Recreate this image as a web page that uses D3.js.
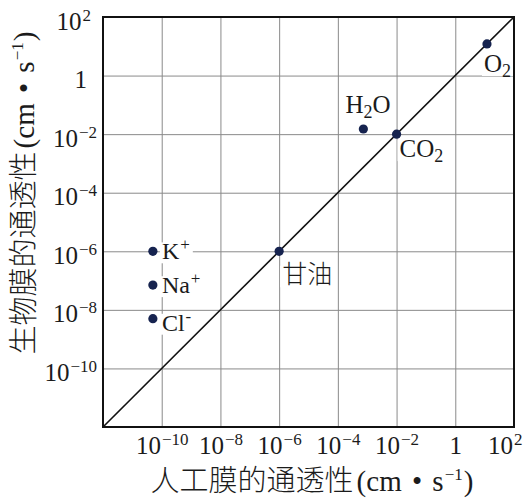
<!DOCTYPE html>
<html>
<head>
<meta charset="utf-8">
<script src="https://cdn.jsdelivr.net/npm/d3@7"></script>
<style>
  html, body { margin: 0; padding: 0; background: #fff; }
  svg { display: block; }
</style>
</head>
<body>
<svg id="chart" width="525" height="498"></svg>
<script>
// Permeability of substances: artificial (lipid bilayer) vs. biological membrane, cm·s⁻¹
const substances = ["K+", "Na+", "Cl-", "甘油", "H2O", "CO2", "O2"];
const artificialPermeability = [5e-11, 5e-11, 5e-11, 1e-6, 7.4e-4, 1e-2, 12];
const biologicalPermeability = [1e-6, 7e-8, 5e-9, 1e-6, 1.5e-2, 1e-2, 12];

// Tick exponents of the log axes
const xTickExponents = [-10, -8, -6, -4, -2, 0, 2];
const yTickExponents = [2, 0, -2, -4, -6, -8, -10];
const axisDomain = [1e-12, 1e2];

const xTitle = ["人工膜的通透性", "(cm • s", "−1", ")"];
const yTitle = ["生物膜的通透性", "(cm • s", "−1", ")"];

const svg = d3.select("#chart");
const W = 525, H = 498;
const margin = { left: 103, top: 17, right: 11, bottom: 71 };
const pw = W - margin.left - margin.right;
const ph = H - margin.top - margin.bottom;

const serif = "'Liberation Serif', 'Times New Roman', serif";
const cjkFont = "'Noto Sans CJK SC', sans-serif";
const ink = "#1b1b1b";

const x = d3.scaleLog().domain(axisDomain).range([0, pw]);
const y = d3.scaleLog().domain(axisDomain).range([ph, 0]);

const g = svg.append("g").attr("transform", `translate(${margin.left},${margin.top})`);

// exponent -> "10" with superscript (or "1")
function powerLabel(sel, exp, supSize) {
  sel.text(null);
  if (exp === 0) { sel.append("tspan").text("1"); return; }
  sel.append("tspan").text("10");
  sel.append("tspan")
    .attr("font-size", supSize)
    .attr("dx", 1)
    .attr("dy", -9)
    .text(exp < 0 ? "−" + Math.abs(exp) : String(exp));
}

// X axis: gridlines + labels
const xAxis = d3.axisBottom(x)
  .tickValues(xTickExponents.map(e => Math.pow(10, e)))
  .tickSize(-ph)
  .tickPadding(0);
const gx = g.append("g").attr("transform", `translate(0,${ph})`).call(xAxis);
gx.select(".domain").remove();
gx.selectAll(".tick line").attr("stroke", "#8a8a8a").attr("stroke-width", 1);
gx.selectAll(".tick text")
  .attr("fill", ink)
  .attr("font-family", serif)
  .attr("font-size", 25)
  .attr("y", 27)
  .attr("dy", 0)
  .each(function (d) {
    powerLabel(d3.select(this), Math.round(Math.log10(d)), 17);
  });
// keep the last label inside the page
gx.selectAll(".tick").each(function (d) {
  const t = d3.select(this).select("text");
  const bb = t.node().getBBox();
  const absRight = margin.left + x(d) + bb.x + bb.width;
  if (absRight > W - 3) t.attr("x", -(absRight - (W - 3)));
});

// Y axis: gridlines + labels
const yAxis = d3.axisLeft(y)
  .tickValues(yTickExponents.map(e => Math.pow(10, e)))
  .tickSize(-pw)
  .tickPadding(6);
const gy = g.append("g").call(yAxis);
gy.select(".domain").remove();
gy.selectAll(".tick line").attr("stroke", "#8a8a8a").attr("stroke-width", 1);
gy.selectAll(".tick text")
  .attr("fill", ink)
  .attr("font-family", serif)
  .attr("font-size", 25)
  .attr("dy", 12)
  .each(function (d) {
    const e = Math.round(Math.log10(d));
    powerLabel(d3.select(this), e, 17);
    if (e === 0) d3.select(this).attr("x", -16);
    if (e > 0) d3.select(this).attr("x", -12);
  });

// Layers: label backgrounds sit over the grid but under the diagonal
const bgLayer = g.append("g");
const lineLayer = g.append("g");
const markLayer = g.append("g");
const textLayer = g.append("g");

// Diagonal: equal permeability
lineLayer.append("line")
  .attr("x1", x(axisDomain[0])).attr("y1", y(axisDomain[0]))
  .attr("x2", x(axisDomain[1])).attr("y2", y(axisDomain[1]))
  .attr("stroke", "#111").attr("stroke-width", 1.6);

// Plot frame
lineLayer.append("rect")
  .attr("width", pw).attr("height", ph)
  .attr("fill", "none").attr("stroke", "#111").attr("stroke-width", 2);

// Points
const points = substances.map((name, i) => ({
  name, ax: artificialPermeability[i], bx: biologicalPermeability[i]
}));

markLayer.selectAll("circle.pt")
  .data(points)
  .join("circle")
  .attr("class", "pt")
  .attr("cx", d => x(d.ax))
  .attr("cy", d => y(d.bx))
  .attr("r", 4.6)
  .attr("fill", "#16234f");

// Label placement relative to each point
const placement = {
  "K+":  { dx: 9,   dy: 8,  size: 24 },
  "Na+": { dx: 9,   dy: 8,  size: 24 },
  "Cl-": { dx: 9,   dy: 12, size: 24 },
  "甘油": { dx: 3,  dy: 32, size: 25 },
  "H2O": { dx: -18, dy: -16, size: 25 },
  "CO2": { dx: 3,   dy: 23, size: 25 },
  "O2":  { dx: -3,  dy: 28, size: 25 }
};

const isCJK = s => /[\u4e00-\u9fff]/.test(s);

// chemical formula -> text with sub/superscripts
function formula(sel, name, size) {
  const small = Math.round(size * 0.7);
  const parts = name.match(/[A-Za-z]+|[\u4e00-\u9fff]+|\d+|[+-]/g);
  let shift = 0;
  parts.forEach(p => {
    const t = sel.append("tspan");
    if (/^\d+$/.test(p)) {
      t.attr("font-size", small).attr("dy", 5 - shift).text(p); shift = 5;
    } else if (p === "+" || p === "-") {
      t.attr("font-size", small).attr("dx", 1).attr("dy", -9 - shift).text(p); shift = -9;
    } else {
      t.attr("dy", -shift).text(p); shift = 0;
      if (isCJK(p)) t.attr("font-family", cjkFont).attr("font-weight", 300);
    }
  });
}

const pos = d => {
  const p = placement[d.name];
  return [x(d.ax) + p.dx, y(d.bx) + p.dy];
};

textLayer.selectAll("text.lbl")
  .data(points)
  .join("text")
  .attr("class", "lbl")
  .attr("transform", d => `translate(${pos(d)})`)
  .attr("font-family", serif)
  .attr("font-size", d => placement[d.name].size)
  .attr("fill", ink)
  .each(function (d) {
    formula(d3.select(this), d.name, placement[d.name].size);
    // tight white box behind the label (hides gridlines only)
    const bb = this.getBBox();
    const cap = placement[d.name].size * 0.62;
    const [tx, ty] = pos(d);
    bgLayer.append("rect")
      .attr("fill", "#fff")
      .attr("x", tx + bb.x - 2).attr("y", ty - cap - 2)
      .attr("width", bb.width + 5).attr("height", cap + 6);
  });

// Axis titles
function title(sel, parts, size) {
  sel.append("tspan").attr("font-family", cjkFont).attr("font-weight", 300).text(parts[0]);
  sel.append("tspan").attr("dx", 3).text(parts[1]);
  sel.append("tspan").attr("font-size", Math.round(size * 0.6)).attr("dx", 1).attr("dy", -11).text(parts[2]);
  sel.append("tspan").attr("dx", 1).attr("dy", 11).text(parts[3]);
}

const xt = svg.append("text")
  .attr("x", 312).attr("y", 491)
  .attr("text-anchor", "middle")
  .attr("font-family", serif)
  .attr("font-size", 29)
  .attr("fill", ink)
  .attr("word-spacing", 3);
title(xt, xTitle, 29);

const yt = svg.append("text")
  .attr("transform", "translate(34,193) rotate(-90)")
  .attr("text-anchor", "middle")
  .attr("font-family", serif)
  .attr("font-size", 29)
  .attr("fill", ink)
  .attr("word-spacing", 3);
title(yt, yTitle, 29);
</script>
</body>
</html>
